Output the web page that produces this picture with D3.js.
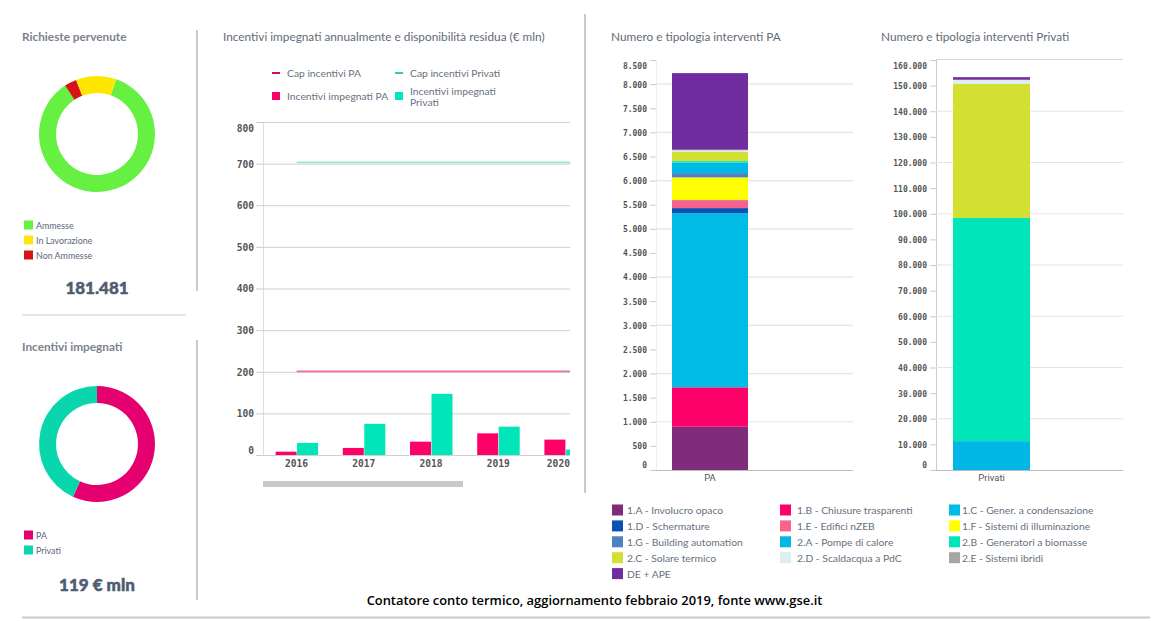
<!DOCTYPE html>
<html>
<head>
<meta charset="utf-8">
<script src="https://cdn.jsdelivr.net/npm/d3@7"></script>
<style>
  html, body { margin: 0; padding: 0; background: #fff; }
  svg { display: block; }
  text { font-family: Lato, "Open Sans", sans-serif; }
  .title { font-size: 11.8px; fill: #5f6b78; }
  .title-bold { font-weight: 700; fill: #7b838c; }
  .legend { font-size: 8.9px; fill: #5b6778; }
  .legend-big { font-size: 10.3px; fill: #66717e; }
  .total { font-size: 17px; font-weight: 900; fill: #4f5d70; stroke: #4f5d70; stroke-width: 0.5px; text-anchor: middle; }
  .tick text { font-family: "DejaVu Sans Mono", monospace; fill: #555; font-weight: 700; }
</style>
</head>
<body>
<svg id="chart" width="1169" height="621"></svg>
<script>
// Richieste pervenute
const requestLabels = ['Ammesse', 'Non Ammesse', 'In Lavorazione'];
const requestValues = [154800, 6200, 20481];
const requestLegend = ['Ammesse', 'In Lavorazione', 'Non Ammesse'];
const requestColors = { 'Ammesse': '#66f042', 'In Lavorazione': '#ffe600', 'Non Ammesse': '#d61414' };

// Incentivi impegnati
const incentiveLabels = ['PA', 'Privati'];
const incentiveValues = [67.6, 51.4];
const incentiveColors = { 'PA': '#e6006f', 'Privati': '#0ad6ae' };

// Incentivi per anno
const years = ['2016', '2017', '2018', '2019', '2020'];
const capYears = ['2016', '2017', '2018', '2019', '2020', '2021'];
const yearlyPA = [8, 17, 32, 52, 37];
const yearlyPrivati = [29, 75, 147, 68, 13];
const capPA = [201, 201, 201, 201, 201, 201];
const capPrivati = [703, 703, 703, 703, 703, 703];
const yearlyTicks = [0, 100, 200, 300, 400, 500, 600, 700, 800];

// Interventi
const workTypes = ['1.A - Involucro opaco', '1.B - Chiusure trasparenti', '1.C - Gener. a condensazione',
  '1.D - Schermature', '1.E - Edifici nZEB', '1.F - Sistemi di illuminazione',
  '1.G - Building automation', '2.A - Pompe di calore', '2.B - Generatori a biomasse',
  '2.C - Solare termico', '2.D - Scaldacqua a PdC', '2.E - Sistemi ibridi', 'DE + APE'];
const workColors = ['#802b7b', '#ff0068', '#00bbe6', '#0a50b5', '#f7628f', '#ffff00',
  '#4f81bd', '#00b8e6', '#00e6b8', '#d2e032', '#dcedf3', '#a6a6a6', '#6f2da0'];
const worksPA = [897, 817, 3606, 110, 166, 470, 89, 221, 28, 194, 30, 12, 1588];
const worksPrivati = [0, 0, 0, 0, 0, 0, 0, 11270, 87090, 52340, 1500, 100, 1000];
const ticksPA = d3.range(0, 8501, 500);
const ticksPrivati = d3.range(0, 160001, 10000);

const svg = d3.select('#chart');
const itFormat = d3.formatLocale({ decimal: ',', thousands: '.', grouping: [3], currency: ['€', ''] }).format(',d');
const RULE = '#c9c9c9';

// Dividers between the panels
[[197, 30, 197, 291], [197, 340, 197, 600], [585, 14, 585, 493], [22, 315, 186, 315], [22, 617.5, 1150, 617.5]]
  .forEach(d => {
    svg.append('line')
      .attr('x1', d[0]).attr('y1', d[1]).attr('x2', d[2]).attr('y2', d[3])
      .attr('stroke', RULE)
      .attr('stroke-width', d[1] === 315 ? 1 : 2);
  });

function title(text, x, y, bold) {
  svg.append('text').attr('class', bold ? 'title title-bold' : 'title')
    .attr('x', x).attr('y', y).text(text);
}

title('Richieste pervenute', 22, 41, true);
title('Incentivi impegnati', 22, 351, true);
title('Incentivi impegnati annualmente e disponibilità residua (€ mln)', 223, 41);
title('Numero e tipologia interventi PA', 611, 41);
title('Numero e tipologia interventi Privati', 881, 41);

function donut(labels, values, colors, cx, cy, startDeg) {
  const start = startDeg * Math.PI / 180;
  const pie = d3.pie().sort(null).startAngle(start).endAngle(start + 2 * Math.PI);
  const arc = d3.arc().innerRadius(41).outerRadius(58);
  svg.append('g')
    .attr('transform', `translate(${cx},${cy})`)
    .selectAll('path')
    .data(pie(values))
    .enter()
    .append('path')
    .attr('d', arc)
    .attr('fill', (d, i) => colors[labels[i]]);
}

function donutLegend(labels, colors, y0) {
  labels.forEach((name, i) => {
    const y = y0 + i * 15;
    svg.append('rect').attr('x', 24).attr('y', y - 4.5).attr('width', 9).attr('height', 9).attr('fill', colors[name]);
    svg.append('text').attr('class', 'legend').attr('x', 36).attr('y', y + 3.5).text(name);
  });
}

donut(requestLabels, requestValues, requestColors, 97, 134, 19.5);
donutLegend(requestLegend, requestColors, 225);
svg.append('text').attr('class', 'total').attr('x', 97).attr('y', 294).text('181.481');

donut(incentiveLabels, incentiveValues, incentiveColors, 97, 444, 0);
donutLegend(incentiveLabels, incentiveColors, 535);
svg.append('text').attr('class', 'total').attr('x', 97).attr('y', 591).text('119 € mln');

// Yearly chart (scrolled: clipped on the right)
function yearlyChart() {
  const left = 263, right = 570;
  const x = d3.scaleBand().domain(capYears).range([left, left + 67.2 * capYears.length]);
  const inner = d3.scaleBand().domain(['PA', 'Privati']).range([0, 43]);
  const offset = (x.bandwidth() - 43) / 2;
  const y = d3.scaleLinear().domain([0, 800]).range([455, 122]);

  svg.append('defs').append('clipPath').attr('id', 'yearly-clip')
    .append('rect').attr('x', left).attr('y', 110).attr('width', right - left).attr('height', 350);

  const axis = svg.append('g')
    .attr('transform', `translate(${left},0)`)
    .call(d3.axisLeft(y).tickValues(yearlyTicks).tickSize(7).tickPadding(2));
  axis.select('.domain').attr('stroke', '#ddd').attr('d', 'M0.5,122V455');
  axis.selectAll('.tick line').attr('stroke', '#ccc');
  axis.selectAll('.tick text').attr('font-size', 9.6)
    .attr('dy', d => d === 0 ? '-1.6px' : d === 800 ? '9.4px' : '3.4px');

  svg.append('g').selectAll('line').data(yearlyTicks).enter().append('line')
    .attr('x1', left).attr('x2', right)
    .attr('y1', d => y(d) + 0.5).attr('y2', d => y(d) + 0.5)
    .attr('stroke', '#d0d0d0');

  const plot = svg.append('g').attr('clip-path', 'url(#yearly-clip)');
  years.forEach((year, i) => {
    [['PA', yearlyPA[i], '#ff0068'], ['Privati', yearlyPrivati[i], '#00e6b8']].forEach(([k, v, color]) => {
      plot.append('rect')
        .attr('x', x(year) + offset + inner(k) + 0.5)
        .attr('width', inner.bandwidth() - 0.5)
        .attr('y', y(v))
        .attr('height', y(0) - y(v))
        .attr('fill', color);
    });
  });

  const line = d3.line().x((d, i) => x(capYears[i]) + x.bandwidth() / 2).y(d => y(d));
  plot.append('path').attr('d', line(capPrivati)).attr('fill', 'none').attr('stroke', '#93e8d5').attr('stroke-width', 1.7);
  plot.append('path').attr('d', line(capPA)).attr('fill', 'none').attr('stroke', '#ee6ea5').attr('stroke-width', 1.7);

  svg.append('g').selectAll('text').data(years).enter().append('text')
    .style('font-family', '"DejaVu Sans Mono", monospace')
    .attr('font-size', 9.6)
    .attr('font-weight', 700)
    .attr('fill', '#555')
    .attr('x', d => Math.min(x(d) + x.bandwidth() / 2, 570 - 11.6))
    .attr('y', 467)
    .attr('text-anchor', 'middle')
    .text(d => d);

  // Navigator scrollbar
  svg.append('rect').attr('x', left).attr('y', 481).attr('width', 200).attr('height', 6).attr('fill', '#c8c8c8');

  // Legend
  const lg = svg.append('g');
  lg.append('rect').attr('x', 272).attr('y', 72).attr('width', 8).attr('height', 2).attr('fill', '#c8105f');
  lg.append('rect').attr('x', 395).attr('y', 72).attr('width', 8).attr('height', 2).attr('fill', '#2ed0ad');
  lg.append('rect').attr('x', 272).attr('y', 92).attr('width', 8).attr('height', 8).attr('fill', '#ff0068');
  lg.append('rect').attr('x', 395).attr('y', 92).attr('width', 8).attr('height', 8).attr('fill', '#00e6b8');
  [['Cap incentivi PA', 287, 77], ['Cap incentivi Privati', 410, 77], ['Incentivi impegnati PA', 287, 100],
   ['Incentivi impegnati', 410, 95], ['Privati', 410, 106]].forEach(d => {
    lg.append('text').attr('class', 'legend legend-big').attr('x', d[1]).attr('y', d[2]).text(d[0]);
  });
}
yearlyChart();

// Stacked single-column charts
function stackChart(name, values, ticks, maxY, left, right, barX0, barX1, strongEvery, hasTop) {
  const y = d3.scaleLinear().domain([0, maxY]).range([470, 60]);
  const axis = svg.append('g')
    .attr('transform', `translate(${left},0)`)
    .call(d3.axisLeft(y).tickValues(ticks).tickSize(6).tickPadding(3).tickFormat(itFormat));
  axis.select('.domain').attr('stroke', hasTop ? '#ccc' : '#eee').attr('d', 'M0.5,60V470');
  axis.selectAll('.tick line').attr('stroke', '#ccc');
  axis.selectAll('.tick text').attr('font-size', 8)
    .attr('dy', d => d === 0 ? '-2.7px' : d === maxY ? '8px' : '2.9px');

  svg.append('g').selectAll('line')
    .data(ticks.filter(d => d > 0 && d % strongEvery === 0 && d < maxY))
    .enter().append('line')
    .attr('x1', left).attr('x2', right)
    .attr('y1', d => y(d)).attr('y2', d => y(d))
    .attr('stroke', '#e4e4e4').attr('stroke-width', 1.2);

  if (hasTop) {
    svg.append('line').attr('x1', left).attr('x2', right).attr('y1', 59.5).attr('y2', 59.5).attr('stroke', '#d8d8d8');
  }
  svg.append('line').attr('x1', left).attr('x2', right).attr('y1', 470.5).attr('y2', 470.5).attr('stroke', '#bbb');

  const stack = d3.stack().keys(d3.range(values.length));
  const series = stack([values]);
  svg.append('g').selectAll('rect').data(series).enter().append('rect')
    .attr('x', barX0)
    .attr('width', barX1 - barX0)
    .attr('y', d => y(d[0][1]))
    .attr('height', d => y(d[0][0]) - y(d[0][1]))
    .attr('fill', (d, i) => workColors[i]);

  svg.append('text').attr('x', (barX0 + barX1) / 2).attr('y', 481)
    .attr('text-anchor', 'middle').attr('font-size', 9.5).attr('fill', '#555')
    .style('font-family', 'Roboto, sans-serif')
    .text(name);
}

stackChart('PA', worksPA, ticksPA, 8500, 656, 853, 672, 748, 1000, false);
stackChart('Privati', worksPrivati, ticksPrivati, 160000, 936, 1123, 953, 1030, 20000, true);

// Shared legend, three columns
const columnSwatch = [612, 780, 949];
const columnText = [627, 797, 962];
workTypes.forEach((name, i) => {
  const col = i === 12 ? 0 : i % 3;
  const row = Math.floor(i / 3);
  const y = 510 + row * 15.9;
  svg.append('rect').attr('x', columnSwatch[col]).attr('y', y - 5.5).attr('width', 11).attr('height', 11).attr('fill', workColors[i]);
  svg.append('text').attr('class', 'legend legend-big').attr('x', columnText[col]).attr('y', y + 4).text(name);
});

svg.append('text').attr('x', 594.5).attr('y', 604.5)
  .attr('text-anchor', 'middle').attr('font-size', 12.9).attr('font-weight', 600).attr('fill', '#000')
  .style('font-family', '"Open Sans", sans-serif')
  .text('Contatore conto termico, aggiornamento febbraio 2019, fonte www.gse.it');
</script>
</body>
</html>
